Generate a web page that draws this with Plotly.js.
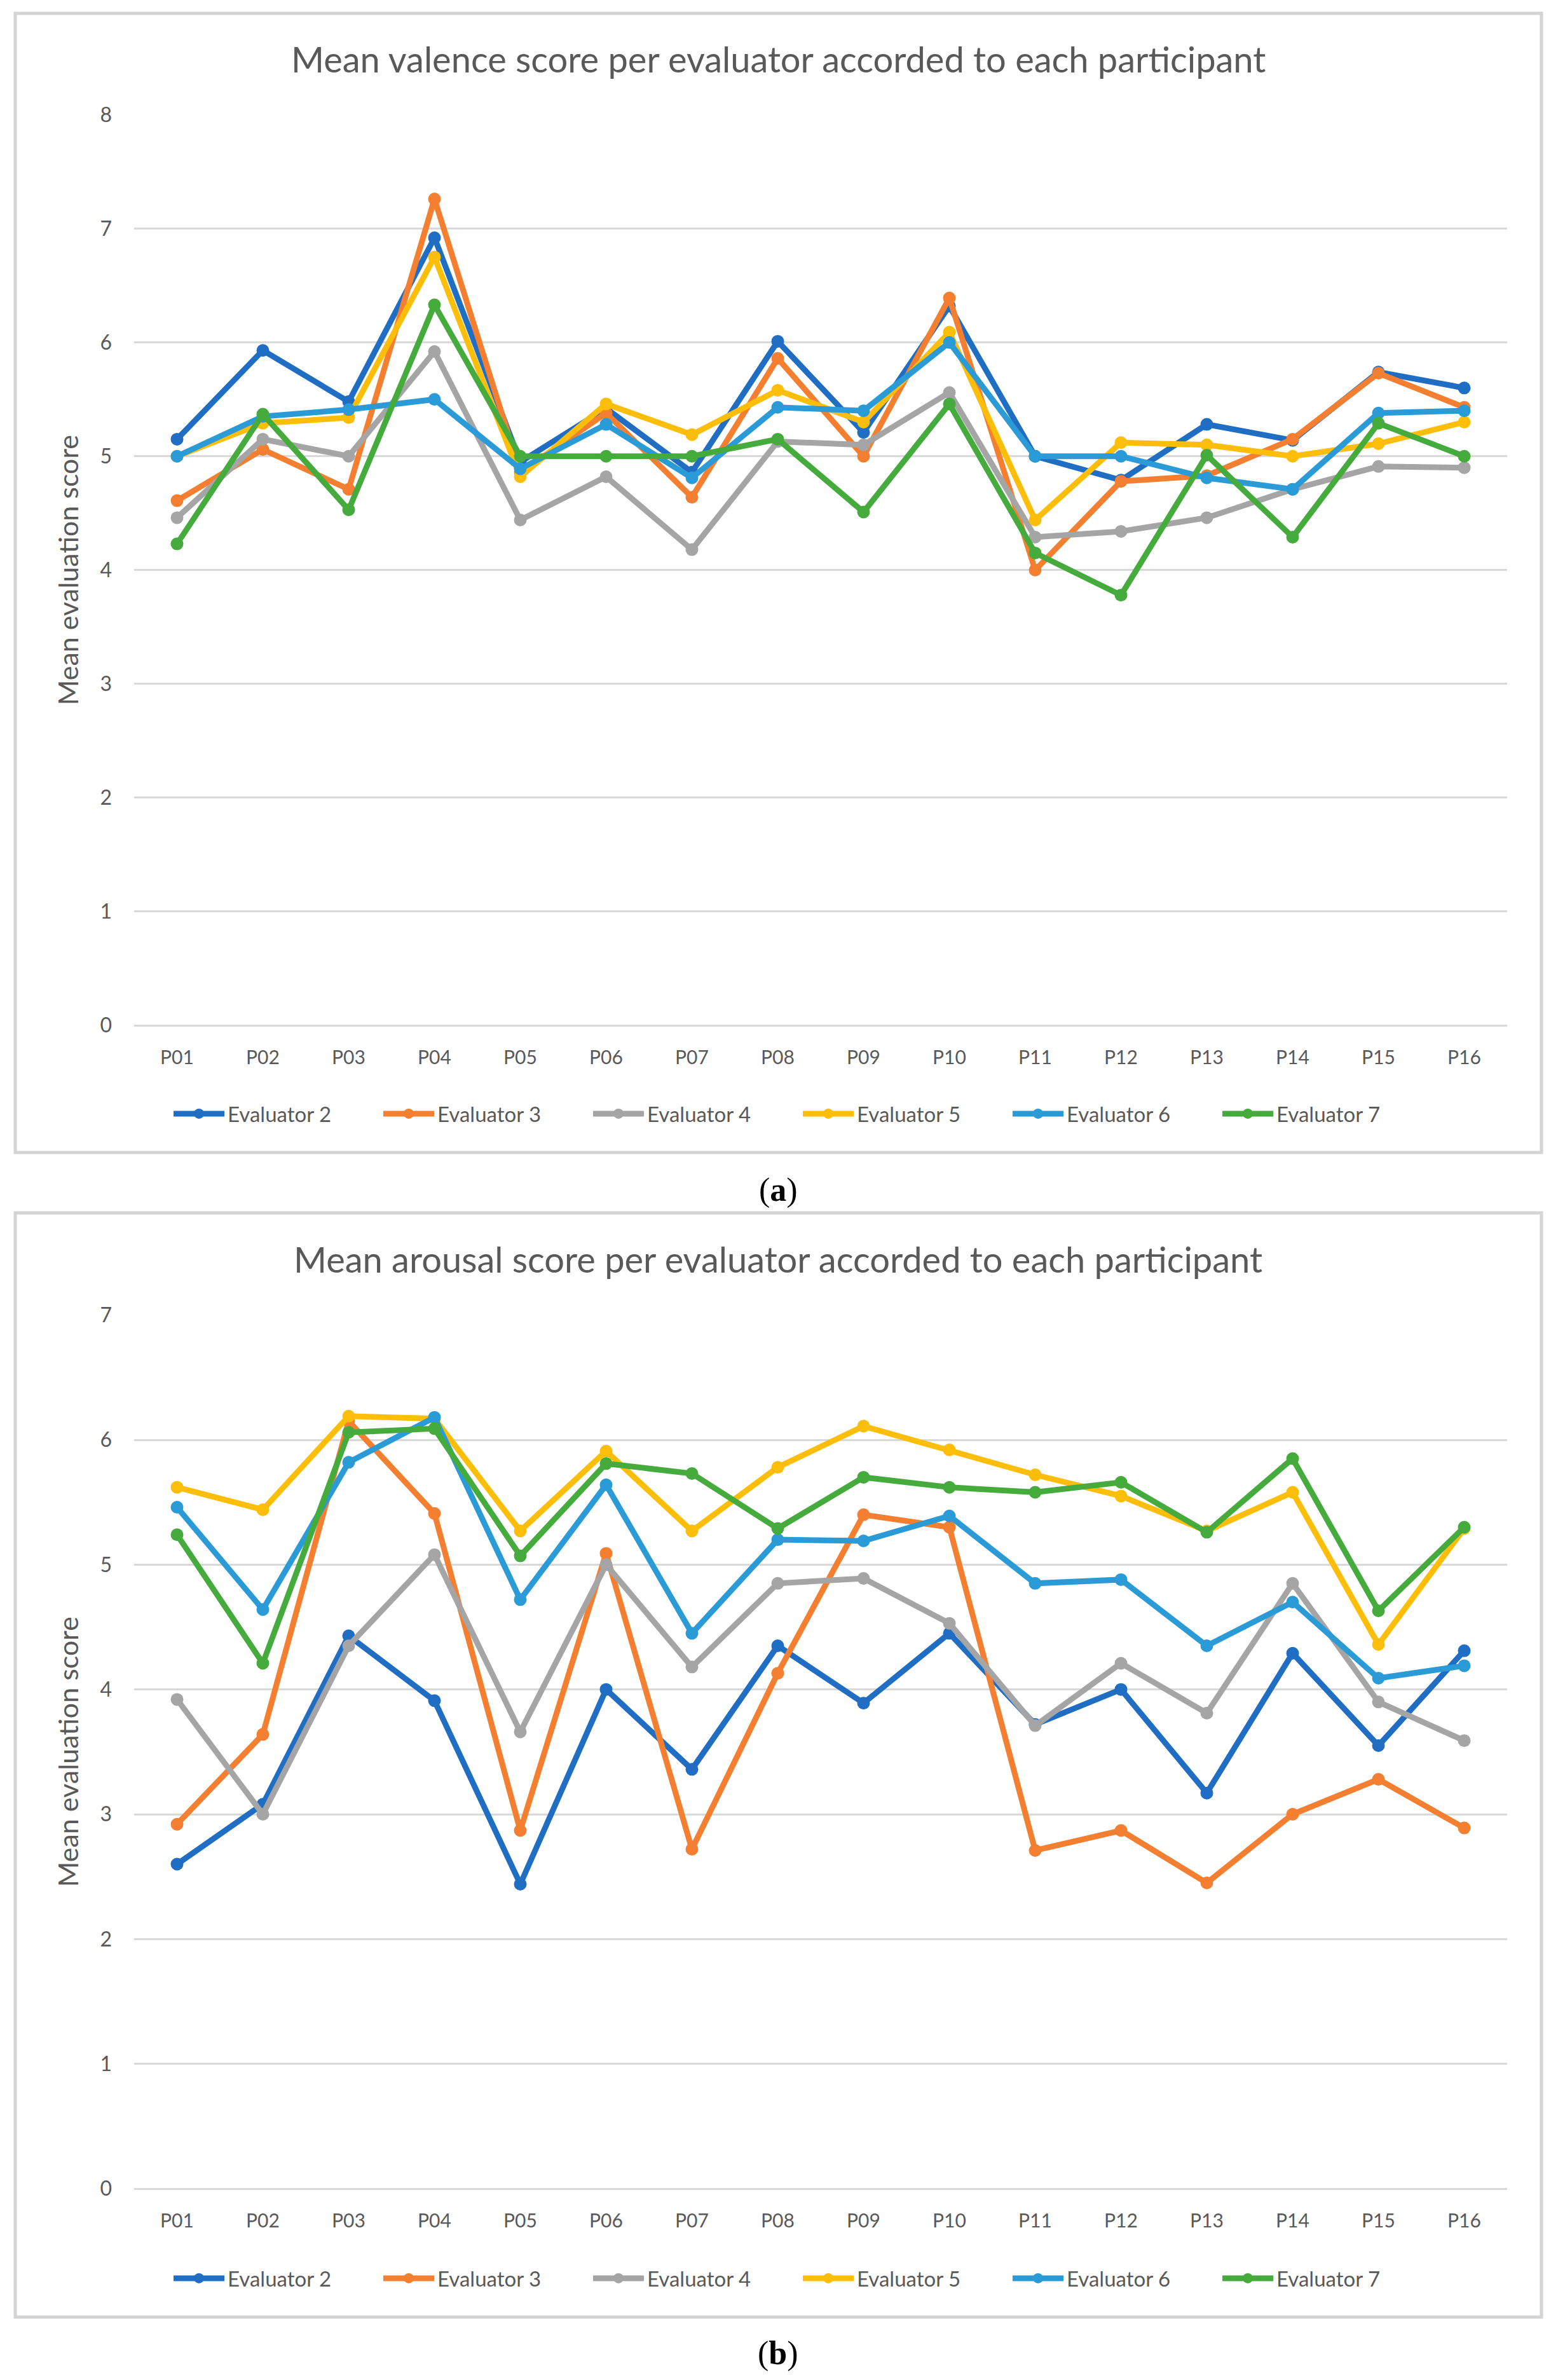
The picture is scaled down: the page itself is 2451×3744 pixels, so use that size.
<!DOCTYPE html>
<html>
<head>
<meta charset="utf-8">
<script src="https://cdn.plot.ly/plotly-3.0.1.min.js"></script>
<style>
  html, body { margin: 0; padding: 0; background: #ffffff; }
  #chart { width: 2451px; height: 3744px; }
</style>
</head>
<body>
<div id="chart"></div>
<script>
// ---- Data ----
const participants = ['P01','P02','P03','P04','P05','P06','P07','P08','P09','P10','P11','P12','P13','P14','P15','P16'];
const evaluatorNames = ['Evaluator 2','Evaluator 3','Evaluator 4','Evaluator 5','Evaluator 6','Evaluator 7'];

// (a) Mean valence score
const valenceEval2 = [5.15, 5.93, 5.48, 6.92, 4.95, 5.42, 4.86, 6.01, 5.21, 6.32, 5.00, 4.79, 5.28, 5.14, 5.74, 5.60];
const valenceEval3 = [4.61, 5.06, 4.71, 7.26, 4.86, 5.38, 4.64, 5.86, 5.00, 6.39, 4.00, 4.78, 4.83, 5.15, 5.73, 5.43];
const valenceEval4 = [4.46, 5.15, 5.00, 5.92, 4.44, 4.82, 4.18, 5.13, 5.10, 5.56, 4.29, 4.34, 4.46, 4.71, 4.91, 4.90];
const valenceEval5 = [5.00, 5.29, 5.34, 6.75, 4.82, 5.46, 5.19, 5.58, 5.30, 6.09, 4.44, 5.12, 5.10, 5.00, 5.11, 5.30];
const valenceEval6 = [5.00, 5.35, 5.41, 5.50, 4.89, 5.28, 4.81, 5.43, 5.40, 6.00, 5.00, 5.00, 4.81, 4.71, 5.38, 5.40];
const valenceEval7 = [4.23, 5.37, 4.53, 6.33, 5.00, 5.00, 5.00, 5.15, 4.51, 5.46, 4.15, 3.78, 5.01, 4.29, 5.29, 5.00];

// (b) Mean arousal score
const arousalEval2 = [2.60, 3.08, 4.43, 3.91, 2.44, 4.00, 3.36, 4.35, 3.89, 4.45, 3.72, 4.00, 3.17, 4.29, 3.55, 4.31];
const arousalEval3 = [2.92, 3.64, 6.15, 5.41, 2.87, 5.09, 2.72, 4.13, 5.40, 5.30, 2.71, 2.87, 2.45, 3.00, 3.28, 2.89];
const arousalEval4 = [3.92, 3.00, 4.35, 5.08, 3.66, 5.00, 4.18, 4.85, 4.89, 4.53, 3.71, 4.21, 3.81, 4.85, 3.90, 3.59];
const arousalEval5 = [5.62, 5.44, 6.19, 6.17, 5.27, 5.91, 5.27, 5.78, 6.11, 5.92, 5.72, 5.55, 5.27, 5.58, 4.36, 5.29];
const arousalEval6 = [5.46, 4.64, 5.82, 6.18, 4.72, 5.64, 4.45, 5.20, 5.19, 5.39, 4.85, 4.88, 4.35, 4.70, 4.09, 4.19];
const arousalEval7 = [5.24, 4.21, 6.06, 6.09, 5.07, 5.81, 5.73, 5.29, 5.70, 5.62, 5.58, 5.66, 5.26, 5.85, 4.63, 5.30];

const valenceTitle = 'Mean valence score per evaluator accorded to each participant';
const arousalTitle = 'Mean arousal score per evaluator accorded to each participant';
const yAxisLabel = 'Mean evaluation score';
const valenceTicks = [0,1,2,3,4,5,6,7,8];
const arousalTicks = [0,1,2,3,4,5,6,7];

// ---- Styling ----
const colors = ['#1F6EC3', '#F47F30', '#A5A5A5', '#FDBE0A', '#2B9BD7', '#45AB3D'];
const W = 2451, H = 3744;
const FONT = 'Lato, "Open Sans", sans-serif';
const TXT = '#595959';
const GRID = '#d9d9d9';

const valenceSeries = [valenceEval2, valenceEval3, valenceEval4, valenceEval5, valenceEval6, valenceEval7];
const arousalSeries = [arousalEval2, arousalEval3, arousalEval4, arousalEval5, arousalEval6, arousalEval7];

const traces = [];
valenceSeries.forEach((ys, i) => {
  traces.push({
    type: 'scatter', mode: 'lines+markers', x: participants, y: ys,
    name: evaluatorNames[i], xaxis: 'x', yaxis: 'y', legend: 'legend',
    line: { color: colors[i], width: 9 },
    marker: { color: colors[i], size: 20 }
  });
});
arousalSeries.forEach((ys, i) => {
  traces.push({
    type: 'scatter', mode: 'lines+markers', x: participants, y: ys,
    name: evaluatorNames[i], xaxis: 'x2', yaxis: 'y2', legend: 'legend2',
    line: { color: colors[i], width: 9 },
    marker: { color: colors[i], size: 20 }
  });
});

const px = v => v / W;
const py = v => 1 - v / H;

const xDom = [px(211), px(2371)];

function xAxis(anchor) {
  return {
    type: 'category', domain: xDom, anchor: anchor,
    range: [-0.5, 15.5], showgrid: false, zeroline: false, showline: false,
    ticks: '', ticklabelstandoff: 30,
    tickfont: { family: FONT, size: 30, color: TXT },
    fixedrange: true
  };
}
function yAxis(anchor, domain, maxV, ticks) {
  return {
    domain: domain, anchor: anchor, range: [0, maxV],
    tickvals: ticks, ticktext: ticks.map(String),
    showgrid: true, gridcolor: GRID, gridwidth: 3,
    zeroline: true, zerolinecolor: GRID, zerolinewidth: 3,
    showline: false, ticks: '', ticklabelstandoff: 34,
    tickfont: { family: FONT, size: 32, color: TXT },
    title: { text: yAxisLabel, font: { family: FONT, size: 43, color: TXT }, standoff: 20 },
    automargin: false, fixedrange: true
  };
}

const legendCommon = {
  orientation: 'h', xanchor: 'left', yanchor: 'middle',
  font: { family: FONT, size: 33, color: TXT },
  entrywidth: 235, entrywidthmode: 'pixels', itemwidth: 80,
  bgcolor: 'rgba(0,0,0,0)', borderwidth: 0
};

const layout = {
  width: W, height: H,
  margin: { l: 0, r: 0, t: 0, b: 0 },
  paper_bgcolor: '#ffffff', plot_bgcolor: '#ffffff',
  showlegend: true,
  xaxis: xAxis('y'),
  yaxis: yAxis('x', [py(1613), py(180.6)], 8, valenceTicks),
  xaxis2: xAxis('y2'),
  yaxis2: yAxis('x2', [py(3443), py(2068.7)], 7, arousalTicks),
  legend: Object.assign({}, legendCommon, { x: px(268), y: py(1752) }),
  legend2: Object.assign({}, legendCommon, { x: px(268), y: py(3584) }),
  shapes: [
    { type: 'rect', xref: 'paper', yref: 'paper', x0: px(24), x1: px(2425), y0: py(1813), y1: py(21),
      line: { color: '#d4d4d4', width: 5 }, fillcolor: 'rgba(0,0,0,0)', layer: 'below' },
    { type: 'rect', xref: 'paper', yref: 'paper', x0: px(24), x1: px(2425), y0: py(3645), y1: py(1908),
      line: { color: '#d4d4d4', width: 5 }, fillcolor: 'rgba(0,0,0,0)', layer: 'below' }
  ],
  annotations: [
    { text: valenceTitle, xref: 'paper', yref: 'paper', x: px(1224), y: py(92), xanchor: 'center', yanchor: 'middle',
      showarrow: false, font: { family: FONT, size: 56, color: TXT } },
    { text: arousalTitle, xref: 'paper', yref: 'paper', x: px(1224), y: py(1980), xanchor: 'center', yanchor: 'middle',
      showarrow: false, font: { family: FONT, size: 56, color: TXT } },
    { text: '(<b>a</b>)', xref: 'paper', yref: 'paper', x: px(1224), y: py(1872), xanchor: 'center', yanchor: 'middle',
      showarrow: false, font: { family: '"Liberation Serif", "Times New Roman", serif', size: 52, color: '#000000' } },
    { text: '(<b>b</b>)', xref: 'paper', yref: 'paper', x: px(1224), y: py(3702), xanchor: 'center', yanchor: 'middle',
      showarrow: false, font: { family: '"Liberation Serif", "Times New Roman", serif', size: 52, color: '#000000' } }
  ]
};

Plotly.newPlot('chart', traces, layout, { staticPlot: true, displayModeBar: false });
</script>
</body>
</html>
